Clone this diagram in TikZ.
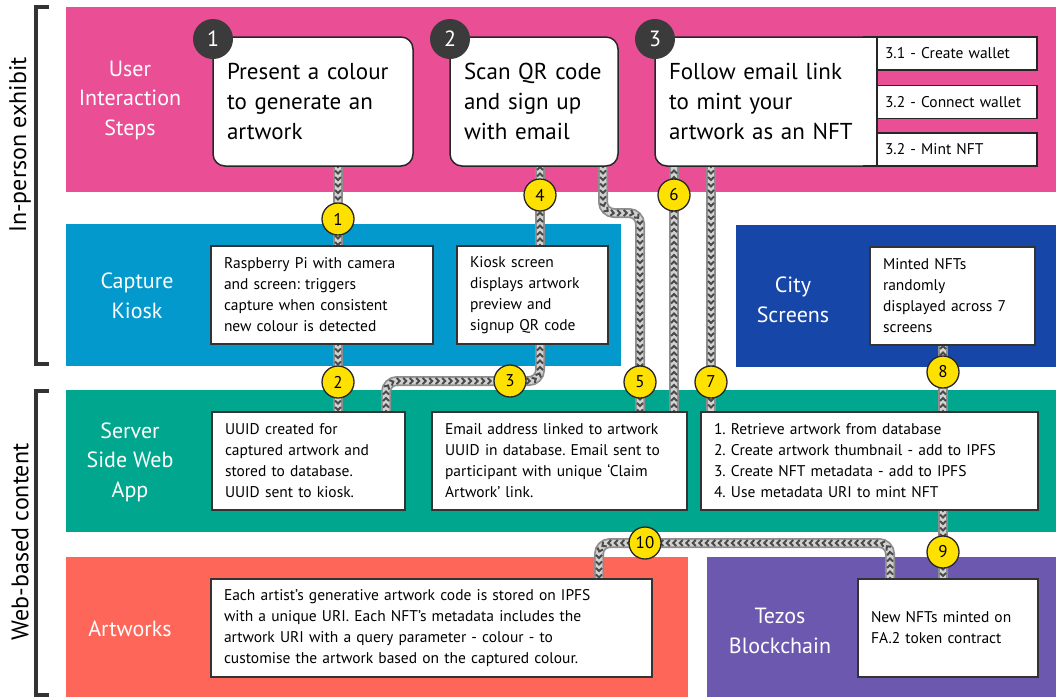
\documentclass[tikz,border=0pt]{standalone}
\usepackage{fontspec}
\setmainfont{PT Sans}
\usetikzlibrary{positioning,decorations.markings,backgrounds}
\frenchspacing
\definecolor{StepPink}{HTML}{EA4F96}
\definecolor{KioskBlue}{HTML}{0399CD}
\definecolor{CityBlue}{HTML}{1647A8}
\definecolor{ServerTeal}{HTML}{00A78E}
\definecolor{ArtRed}{HTML}{FF665A}
\definecolor{TezosPurple}{HTML}{6D58AF}
\definecolor{NumDark}{HTML}{3B3B3B}
\definecolor{NumYellow}{HTML}{FFE100}
\definecolor{RopeEdge}{HTML}{8E8E8E}
\definecolor{RopeFill}{HTML}{D2D2D2}
\definecolor{RopeMark}{HTML}{4A4A4A}

\begin{document}
\begin{tikzpicture}[x=1pt,y=-1pt,
band/.style={anchor=north west,inner sep=0pt,outer sep=0pt},
bandlabel/.style={text=white,align=center,font=\fontsize{22}{29.5}\selectfont},
stepbox/.style={draw=black!85,line width=1.5pt,fill=white,rounded corners=12pt,anchor=north west,align=left,inner xsep=14pt,outer sep=0pt,minimum height=129pt,font=\fontsize{23}{30}\selectfont},
subbox/.style={draw=black!85,line width=1.3pt,fill=white,anchor=north west,align=left,inner xsep=8pt,outer sep=0pt,minimum width=160pt,minimum height=33pt,text width=144pt,font=\fontsize{15.5}{18}\selectfont},
infobox/.style={draw=black!80,line width=1.2pt,fill=white,anchor=north west,align=left,inner xsep=13pt,outer sep=0pt,minimum height=98pt,font=\fontsize{15.5}{21}\selectfont},
stepnum/.style={circle,fill=NumDark,text=white,minimum size=40pt,inner sep=0pt,font=\fontsize{22}{22}\selectfont},
flownum/.style={circle,draw=black!85,line width=1.3pt,fill=NumYellow,minimum size=32pt,inner sep=0pt,font=\fontsize{17}{17}\selectfont},
rope/.style={draw=RopeEdge,line width=10pt,rounded corners=11pt,
  postaction={draw=RopeFill,line width=6.5pt},
  postaction={decorate,decoration={markings,mark=between positions 0 and 1 step 6.5pt with {\draw[RopeMark,line width=2pt,sharp corners] (-2pt,3pt) -- (1pt,0pt) -- (-2pt,-3pt);}}}},
bracket/.style={line width=4pt,draw=black!80},
sidelabel/.style={rotate=90,font=\fontsize{24}{24}\selectfont}
]
\useasboundingbox (0,0) rectangle (1056,697);

% bands
\begin{scope}[on background layer]
\node[band,fill=StepPink,minimum width=990pt,minimum height=185pt] (uband) at (66,7) {};
\node[band,fill=KioskBlue,minimum width=555pt,minimum height=142pt] (kband) at (66,224) {};
\node[band,fill=CityBlue,minimum width=320pt,minimum height=142pt] (cband) at (736,225) {};
\node[band,fill=ServerTeal,minimum width=990pt,minimum height=142pt] (sband) at (66,390) {};
\node[band,fill=ArtRed,minimum width=622pt,minimum height=140pt] (aband) at (66,557) {};
\node[band,fill=TezosPurple,minimum width=349pt,minimum height=140pt] (tband) at (707,557) {};
\end{scope}

\node[bandlabel] (ulabel) at (130,100) {User\\Interaction\\Steps};
\node[bandlabel] (klabel) at (137,296) {Capture\\Kiosk};
\node[bandlabel] (clabel) at (793,300) {City\\Screens};
\node[bandlabel] (slabel) at (130,462) {Server\\Side Web\\App};
\node[bandlabel] (alabel) at (130,629) {Artworks};
\node[bandlabel] (tlabel) at (780,631) {Tezos\\Blockchain};

% brackets
\draw[bracket] (49,7) -- (36,7) -- (36,364) -- (49,364);
\draw[bracket] (49,391) -- (36,391) -- (36,695) -- (49,695);
\node[sidelabel] (inperson) at (20,145) {In-person exhibit};
\node[sidelabel] (webbased) at (20,542) {Web-based content};

% user steps
\node[stepbox,minimum width=200pt,text width=172pt] (step1) at (213,37) {Present a colour\\to generate an\\artwork};
\node[stepbox,minimum width=168pt,text width=140pt] (step2) at (450,37) {Scan QR code\\and sign up\\with email};
\node[stepbox,minimum width=222pt,text width=194pt] (step3) at (655,37) {Follow email link\\to mint your\\artwork as an NFT};
\fill[white] ([xshift=-14pt]step3.north east) rectangle (step3.south east);
\draw[line width=1.5pt,black!85] ([xshift=-14pt]step3.north east) -- (step3.north east) -- (step3.south east) -- ([xshift=-14pt]step3.south east);
\node[subbox] (sub31) at (877,37) {3.1 - Create wallet};
\node[subbox] (sub32) at (877,85.5) {3.2 - Connect wallet};
\node[subbox] (sub33) at (877,133) {3.2 - Mint NFT};

% kiosk and screens
\node[infobox,minimum width=222pt,text width=196pt] (rpi) at (211,246) {Raspberry Pi with camera\\and screen: triggers\\capture when consistent\\new colour is detected};
\node[infobox,minimum width=151pt,text width=125pt] (kscreen) at (457,246) {Kiosk screen\\displays artwork\\preview and\\signup QR code};
\node[infobox,minimum width=165pt,text width=139pt] (minted) at (870,247) {Minted NFTs\\randomly\\displayed across 7\\screens};

% web app
\node[infobox,minimum width=193pt,text width=167pt] (uuid) at (212,412) {UUID created for\\captured artwork and\\stored to database.\\UUID sent to kiosk.};
\node[infobox,minimum width=255pt,text width=229pt] (email) at (432,412) {Email address linked to artwork\\UUID in database. Email sent to\\participant with unique ‘Claim\\Artwork’ link.};
\node[infobox,minimum width=337pt,text width=311pt] (nftlist) at (701,412) {1. Retrieve artwork from database\\2. Create artwork thumbnail - add to IPFS\\3. Create NFT metadata - add to IPFS\\4. Use metadata URI to mint NFT};

% artworks and chain
\node[infobox,minimum width=441pt,text width=415pt] (artbox) at (211,579) {Each artist’s generative artwork code is stored on IPFS\\with a unique URI. Each NFT’s metadata includes the\\artwork URI with a query parameter - colour - to\\customise the artwork based on the captured colour.};
\node[infobox,minimum width=180pt,text width=154pt] (newnft) at (858,579) {New NFTs minted on\\FA.2 token contract};

% flow numbers
\node[flownum] (c1) at (338,219) {1};
\node[flownum] (c2) at (338,382) {2};
\node[flownum] (c3) at (510,381) {3};
\node[flownum] (c4) at (540,195) {4};
\node[flownum] (c5) at (640,382) {5};
\node[flownum] (c6) at (674,195) {6};
\node[flownum] (c7) at (711,382) {7};
\node[flownum] (c8) at (943,372) {8};
\node[flownum] (c9) at (943,552) {9};
\node[flownum] (c10) at (645,543) {10};
\coordinate (k3) at (386,381);
\coordinate (k5) at (603,213);
\coordinate (k10) at (890,543);
\coordinate (k10b) at (599,543);

\begin{scope}[on background layer]
\draw[rope] (step1.south -| c1) -- (rpi.north -| c1);
\draw[rope] (rpi.south -| c2) -- (uuid.north -| c2);
\draw[rope] (uuid.north -| k3) -- (k3) -- (k3 -| c4) -- (kscreen.south -| c4);
\draw[rope] (kscreen.north -| c4) -- (step2.south -| c4);
\draw[rope] (step2.south -| k5) -- (k5) -- (k5 -| c5) -- (email.north -| c5);
\draw[rope] (email.north -| c6) -- (step3.south -| c6);
\draw[rope] (step3.south -| c7) -- (nftlist.north -| c7);
\draw[rope] (nftlist.north -| c8) -- (minted.south -| c8);
\draw[rope] (nftlist.south -| c9) -- (newnft.north -| c9);
\draw[rope] (newnft.north -| k10) -- (k10) -- (k10b) -- (artbox.north -| k10b);
\end{scope}

\node[stepnum] (n1) at (213,39) {1};
\node[stepnum] (n2) at (450,39) {2};
\node[stepnum] (n3) at (655,39) {3};
\end{tikzpicture}
\end{document}
